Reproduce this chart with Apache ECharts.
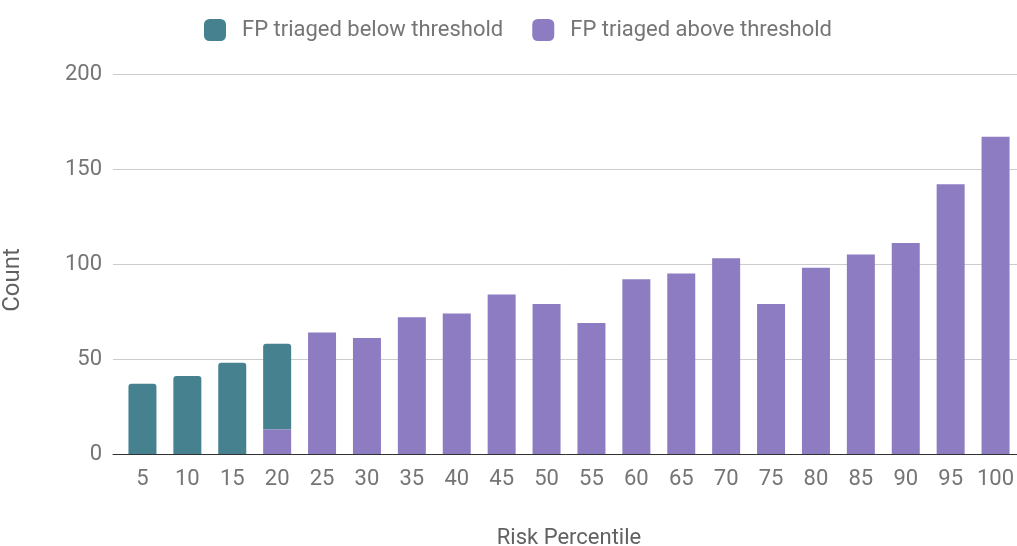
<!DOCTYPE html>
<html>
<head>
<meta charset="utf-8">
<script src="https://cdn.jsdelivr.net/npm/echarts@6/dist/echarts.min.js"></script>
<style>
  html, body { margin: 0; padding: 0; background: #fff; }
  #chart { width: 1017px; height: 546px; }
</style>
</head>
<body>
<div id="chart"></div>
<script>
// Risk percentile buckets
const categories = ['5','10','15','20','25','30','35','40','45','50','55','60','65','70','75','80','85','90','95','100'];
// False positives triaged below the threshold
const belowThreshold = [37, 41, 48, 45, '-', '-', '-', '-', '-', '-', '-', '-', '-', '-', '-', '-', '-', '-', '-', '-'];
// False positives triaged above the threshold
const aboveThreshold = ['-', '-', '-', 13, 64, 61, 72, 74, 84, 79, 69, 92, 95, 103, 79, 98, 105, 111, 142, 167];
const yTicks = { min: 0, max: 200, interval: 50 };

const FONT = 'Roboto, "Noto Sans", sans-serif';
const TEAL = '#45818e';
const PURPLE = '#8e7cc3';

const chart = echarts.init(document.getElementById('chart'));
chart.setOption({
  animation: false,
  textStyle: { fontFamily: FONT },
  legend: {
    top: 14,
    left: 199,
    itemWidth: 22,
    itemHeight: 22,
    itemGap: 29,
    icon: 'roundRect',
    data: ['FP triaged below threshold', 'FP triaged above threshold'],
    textStyle: { fontFamily: FONT, fontSize: 22, color: '#757575', padding: [0, 0, 0, 11] }
  },
  grid: [
    // plotting area for the bars
    { left: 120, top: 74, width: 898, height: 380, containLabel: false, outerBoundsMode: 'none' },
    // slightly wider backdrop carrying the gridlines and baseline
    { left: 113, top: 74, width: 905, height: 380, containLabel: false, outerBoundsMode: 'none' }
  ],
  xAxis: [
    {
      type: 'category',
      gridIndex: 0,
      data: categories,
      name: 'Risk Percentile',
      nameLocation: 'middle',
      nameGap: 73,
      nameTextStyle: { fontFamily: FONT, fontSize: 22, color: '#616161' },
      axisLine: { show: false },
      axisTick: { show: false },
      axisLabel: { interval: 0, margin: 14, fontFamily: FONT, fontSize: 22, color: '#757575' }
    },
    {
      type: 'value',
      gridIndex: 1,
      min: 0,
      max: 1,
      axisLine: { show: true, onZero: false, lineStyle: { color: '#333', width: 1 } },
      axisTick: { show: false },
      axisLabel: { show: false },
      splitLine: { show: false }
    }
  ],
  yAxis: [
    {
      type: 'value',
      gridIndex: 0,
      min: yTicks.min,
      max: yTicks.max,
      interval: yTicks.interval,
      name: 'Count',
      nameLocation: 'middle',
      nameGap: 95,
      nameTextStyle: { fontFamily: FONT, fontSize: 24, color: '#616161', padding: [0, 32, 0, 0] },
      axisLine: { show: false },
      axisTick: { show: false },
      axisLabel: { margin: 18, fontFamily: FONT, fontSize: 22, color: '#757575' },
      splitLine: { show: false }
    },
    {
      type: 'value',
      gridIndex: 1,
      min: yTicks.min,
      max: yTicks.max,
      interval: yTicks.interval,
      axisLine: { show: false },
      axisTick: { show: false },
      axisLabel: { show: false },
      splitLine: { lineStyle: { color: '#cccccc', width: 1 } }
    }
  ],
  series: [
    {
      name: 'FP triaged above threshold',
      type: 'bar',
      stack: 'fp',
      xAxisIndex: 0,
      yAxisIndex: 0,
      barWidth: 28,
      z: 3,
      data: aboveThreshold,
      itemStyle: { color: PURPLE }
    },
    {
      name: 'FP triaged below threshold',
      type: 'bar',
      stack: 'fp',
      xAxisIndex: 0,
      yAxisIndex: 0,
      barWidth: 28,
      z: 3,
      data: belowThreshold,
      itemStyle: { color: TEAL, borderRadius: [3, 3, 0, 0] }
    }
  ]
});
</script>
</body>
</html>
